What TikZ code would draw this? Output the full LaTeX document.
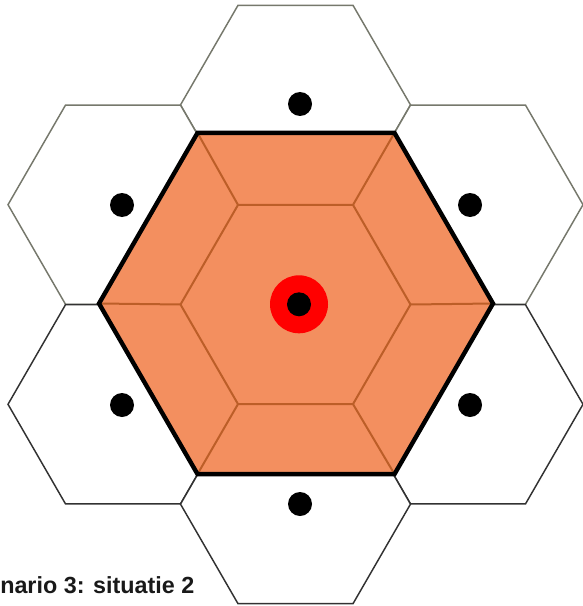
\documentclass[tikz,border=0pt]{standalone}
\usepackage{fontspec}
\setmainfont{Liberation Sans}
\usetikzlibrary{calc}
\definecolor{hexorange}{RGB}{243,143,95}
\definecolor{hexbrown}{RGB}{188,94,40}
\definecolor{edgeup}{RGB}{118,120,108}
\definecolor{edgedown}{RGB}{50,50,50}
\begin{document}
\begin{tikzpicture}[x=0.75pt,y=-0.75pt,
  tile/.style={draw, fill=white, line width=1.1pt, line join=miter},
  spoke/.style={draw=hexbrown, line width=1.5pt},
  bigoutline/.style={draw=black, line width=3.3pt, line join=miter},
  dot/.style={circle, fill=black, inner sep=0pt, minimum size=18pt},
  reddot/.style={circle, fill=red, inner sep=0pt, minimum size=43.5pt},
  caption/.style={anchor=base west, inner sep=0pt, font=\bfseries\fontsize{17.5}{20}\selectfont, text=black!90}]
\useasboundingbox (0,0) rectangle (582,606);
% centres
\coordinate (C) at (295.5,304.5);
\coordinate (B) at (296,303.5);
% outer tiles
\foreach \x/\y/\col in {295.5/104.9/edgeup, 123/204.7/edgeup, 468/204.7/edgeup,
                        123/404.3/edgedown, 468/404.3/edgedown, 295.5/504.1/edgedown}
  \draw[tile, draw=\col, shift={(\x,\y)}] (0:115) -- (60:115) -- (120:115) -- (180:115) -- (240:115) -- (300:115) -- cycle;
% coordinates of big and inner hexagons
\foreach \a in {0,60,...,300} {
  \coordinate (O\a) at ($(B)+(\a:197)$);
  \coordinate (I\a) at ($(C)+(\a:115)$);
}
% orange fill (slightly offset)
\fill[hexorange, shift={(-3,4)}] (O0) -- (O60) -- (O120) -- (O180) -- (O240) -- (O300) -- cycle;
% inner hexagon and spokes
\draw[spoke] (I0) -- (I60) -- (I120) -- (I180) -- (I240) -- (I300) -- cycle;
\foreach \a in {0,60,...,300}
  \draw[spoke] (I\a) -- (O\a);
% big outline
\draw[bigoutline] (O0) -- (O60) -- (O120) -- (O180) -- (O240) -- (O300) -- cycle;
% dots
\node[dot] (dtop) at (300,104) {};
\node[dot] (dul) at (122,205) {};
\node[dot] (dur) at (470,205) {};
\node[dot] (dll) at (122,405) {};
\node[dot] (dlr) at (470,405) {};
\node[dot] (dbot) at (300,504) {};
\node[reddot] (red) at (299,304.3) {};
\node[dot] (dc) at (299,304.3) {};
% caption
\node[caption] (cap) at (0,593) {nario 3: situatie 2};
\end{tikzpicture}
\end{document}
